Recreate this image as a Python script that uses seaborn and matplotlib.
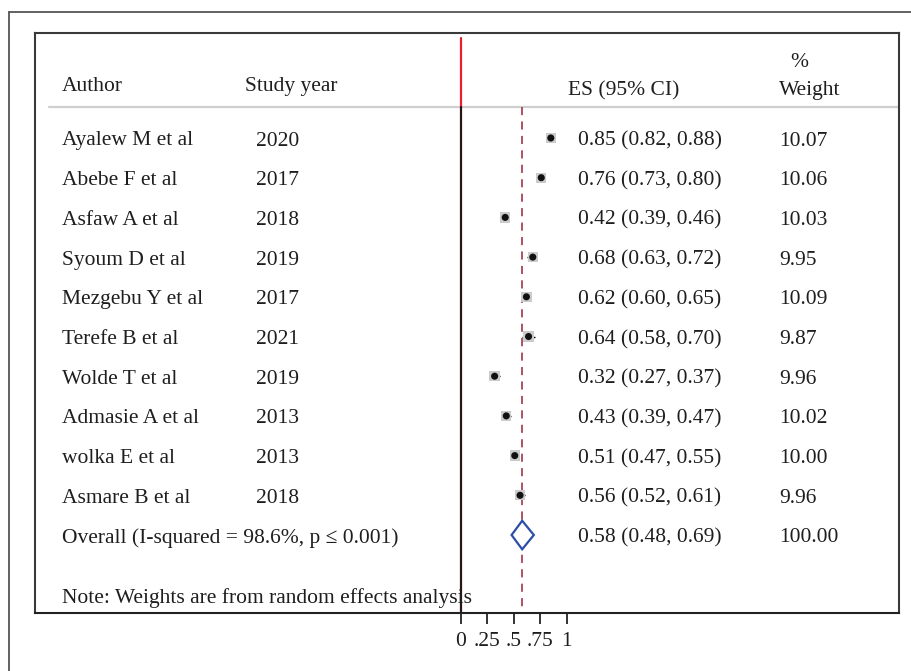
import matplotlib
matplotlib.use("Agg")
import matplotlib.pyplot as plt
from matplotlib.lines import Line2D
import seaborn as sns
import pandas as pd

authors = ["Ayalew M et al", "Abebe F et al", "Asfaw A et al", "Syoum D et al",
           "Mezgebu Y et al", "Terefe B et al", "Wolde T et al", "Admasie A et al",
           "wolka E et al", "Asmare B et al"]
years = [2020, 2017, 2018, 2019, 2017, 2021, 2019, 2013, 2013, 2018]
es = [0.85, 0.76, 0.42, 0.68, 0.62, 0.64, 0.32, 0.43, 0.51, 0.56]
ci_low = [0.82, 0.73, 0.39, 0.63, 0.60, 0.58, 0.27, 0.39, 0.47, 0.52]
ci_high = [0.88, 0.80, 0.46, 0.72, 0.65, 0.70, 0.37, 0.47, 0.55, 0.61]
weights = [10.07, 10.06, 10.03, 9.95, 10.09, 9.87, 9.96, 10.02, 10.00, 9.96]
overall_es, overall_low, overall_high = 0.58, 0.48, 0.69
overall_weight = 100.00
overall_label = "Overall (I-squared = 98.6%, p \u2264 0.001)"
note = "Note: Weights are from random effects analysis"
xticks = [0, 0.25, 0.5, 0.75, 1]
xticklabels = ["0", ".25", ".5", ".75", "1"]

sns.set_style("white")
plt.rcParams["font.family"] = ["Liberation Serif", "DejaVu Serif"]

W, H = 912, 671
fig = plt.figure(figsize=(W / 100, H / 100), dpi=100)

# panel placement in pixels
box_l, box_r, box_t, box_b = 35, 899, 33, 613
ax = fig.add_axes([box_l / W, 1 - box_b / H, (box_r - box_l) / W, (box_b - box_t) / H])

x0_px, unit_px = 460.7, 106.0
row0_px, row_px = 138.0, 39.7


def xd(px):
    return (px - x0_px) / unit_px


def yd(px):
    return (px - row0_px) / row_px


ax.set_xlim(xd(box_l), xd(box_r))
ax.set_ylim(yd(box_b), yd(box_t))

df = pd.DataFrame({"author": authors, "year": years, "es": es,
                   "lo": ci_low, "hi": ci_high, "w": weights})
df["row"] = range(len(df))
n = len(df)
overall_row = n

txt = "#1e1e1e"
fs = 15.5
base = 7.5 / row_px  # baseline offset below a row centre


def put(x_px, y, s):
    ax.text(xd(x_px), y, s, fontsize=fs, color=txt, va="baseline", ha="left")


# reference lines
sep_y = yd(107)
ax.plot([xd(49), xd(box_r)], [sep_y, sep_y], color="#cfcfcf", lw=1.6, zorder=1)
ax.plot([0, 0], [yd(38), sep_y], color="#e8202a", lw=1.6, zorder=2)
ax.plot([0, 0], [sep_y, yd(box_b)], color="#2a1515", lw=1.6, zorder=2)
ax.plot([overall_es, overall_es], [sep_y, yd(box_b)], color="#a84556",
        lw=1.3, ls=(0, (4.5, 3.5)), zorder=2)

# study estimates
ax.hlines(df["row"], df["lo"], df["hi"], color="black", lw=1.0, zorder=3)
sns.scatterplot(data=df, x="es", y="row", marker="s", s=55, color="#cbcbcb",
                edgecolor="none", ax=ax, zorder=4, legend=False)
sns.scatterplot(data=df, x="es", y="row", marker="o", s=26, color="#111111",
                edgecolor="none", ax=ax, zorder=5, legend=False)

# pooled estimate diamond
ax.fill([overall_low, overall_es, overall_high, overall_es],
        [overall_row, overall_row - 0.36, overall_row, overall_row + 0.36],
        facecolor="white", edgecolor="#2c4ea6", lw=1.6, zorder=4)

# header
put(62, yd(91), "Author")
put(245, yd(91), "Study year")
put(568, yd(95), "ES (95% CI)")
put(790, yd(67), "%")
put(779, yd(95), "Weight")

for _, r in df.iterrows():
    y = r["row"] + base
    put(62, y, r["author"])
    put(256, y, str(r["year"]))
    put(578, y, f"{r['es']:.2f} ({r['lo']:.2f}, {r['hi']:.2f})")
    put(779, y, f"{r['w']:.2f}")

put(62, overall_row + base, overall_label)
put(578, overall_row + base, f"{overall_es:.2f} ({overall_low:.2f}, {overall_high:.2f})")
put(779, overall_row + base, f"{overall_weight:.2f}")
put(62, yd(603), note)

# axis styling
ax.set_xlabel("")
ax.set_ylabel("")
ax.set_yticks([])
ax.set_xticks(xticks)
ax.set_xticklabels(xticklabels, fontsize=fs, color=txt)
ax.tick_params(axis="x", direction="out", length=8, width=1.4, color="#333333",
               pad=6, bottom=True)
for side in ["top", "left", "right", "bottom"]:
    ax.spines[side].set_visible(True)
    ax.spines[side].set_color("#3a3a3a")
    ax.spines[side].set_linewidth(1.5)
ax.spines["bottom"].set_color("#222222")

# outer frame
fig.add_artist(Line2D([9 / W, 9 / W], [0, 1 - 12 / H], color="#555555", lw=1.3))
fig.add_artist(Line2D([9 / W, 1], [1 - 12 / H, 1 - 12 / H], color="#555555", lw=1.3))

fig.savefig("out.png", dpi=100)
